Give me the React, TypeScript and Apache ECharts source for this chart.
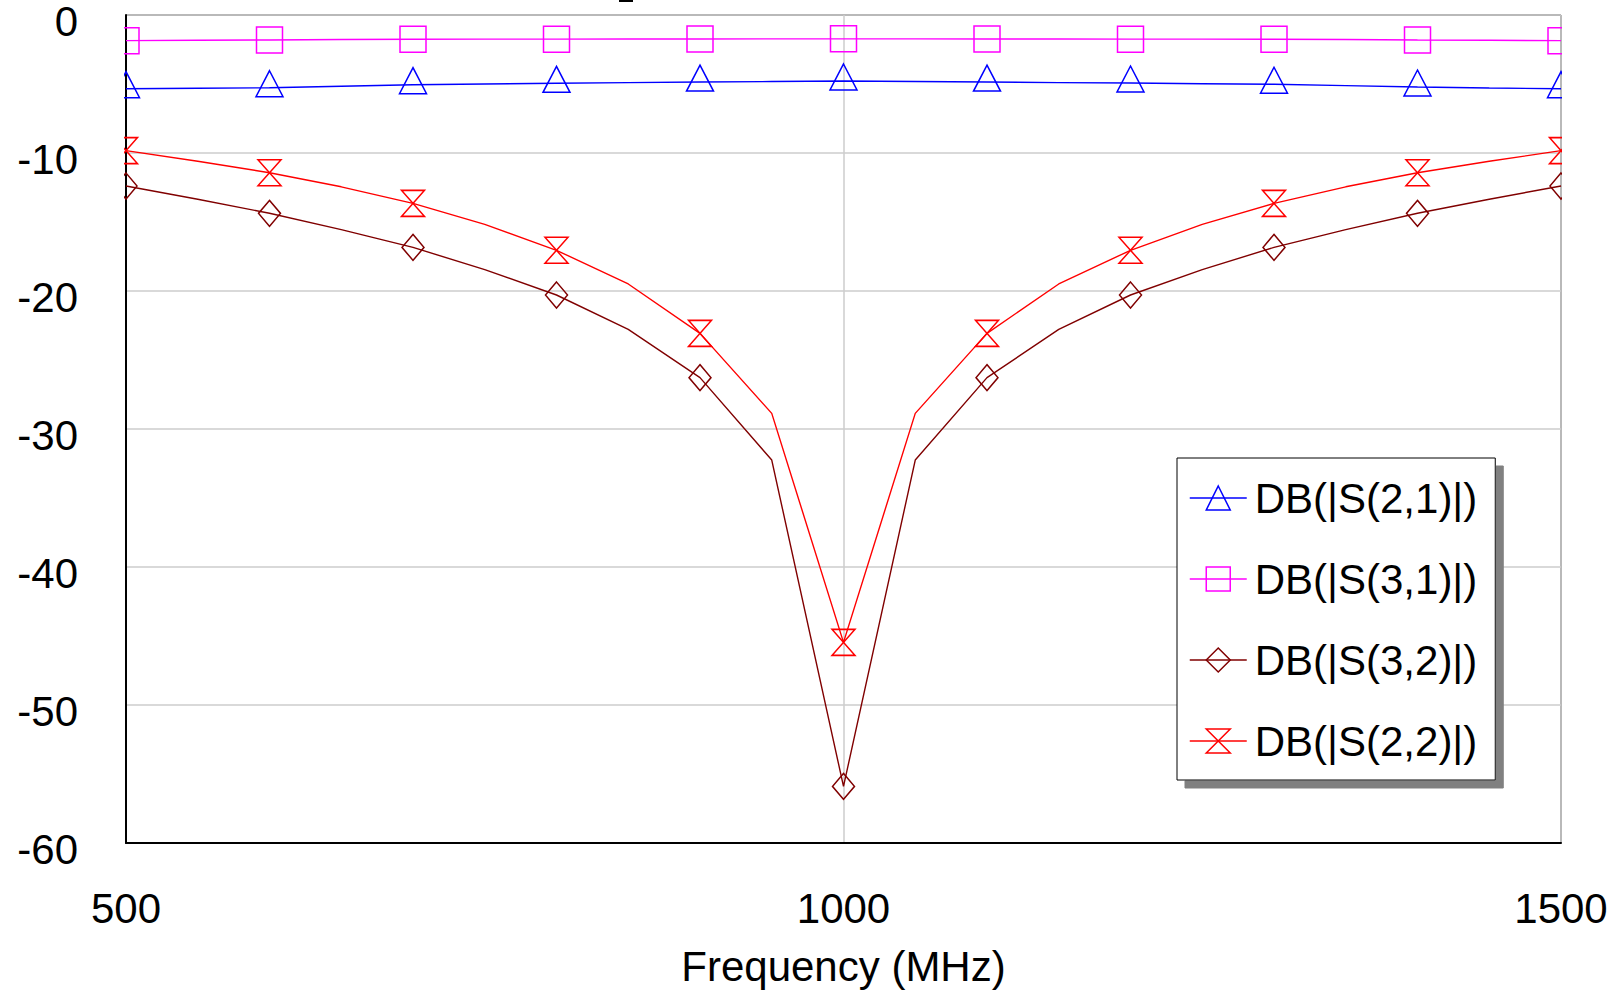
import React, { useEffect, useRef } from "react";
import * as echarts from "echarts";

// Frequency points (MHz) of the traces
const FREQ = [500, 550, 600, 650, 700, 750, 800, 850, 900, 950, 1000, 1050, 1100, 1150, 1200, 1250, 1300, 1350, 1400, 1450, 1500];
// Frequencies that carry a marker
const MARKER_FREQ = [500, 600, 700, 800, 900, 1000, 1100, 1200, 1300, 1400, 1500];

const S21 = [-5.34, -5.31, -5.27, -5.16, -5.05, -5.0, -4.95, -4.9, -4.86, -4.82, -4.78, -4.82, -4.86, -4.9, -4.93, -4.98, -5.02, -5.12, -5.22, -5.29, -5.34];
const S31 = [-1.86, -1.83, -1.81, -1.78, -1.76, -1.75, -1.75, -1.74, -1.74, -1.73, -1.73, -1.73, -1.74, -1.74, -1.75, -1.75, -1.76, -1.78, -1.81, -1.83, -1.86];
const S32 = [-12.39, -13.35, -14.37, -15.55, -16.84, -18.45, -20.29, -22.78, -26.28, -32.25, -55.9, -32.25, -26.28, -22.78, -20.29, -18.45, -16.84, -15.55, -14.37, -13.35, -12.39];
const S22 = [-9.83, -10.6, -11.43, -12.45, -13.65, -15.17, -17.05, -19.49, -23.07, -28.87, -45.46, -28.87, -23.07, -19.49, -17.05, -15.17, -13.65, -12.45, -11.43, -10.6, -9.83];

const NAMES = ["DB(|S(2,1)|)", "DB(|S(3,1)|)", "DB(|S(3,2)|)", "DB(|S(2,2)|)"];
const X_TICKS = [500, 1000, 1500];
const Y_MIN = -60;
const Y_MAX = 0;

const FONT = "'Liberation Sans', Arial, Helvetica, sans-serif";

function buildData(vals: number[]) {
  return FREQ.map((f, i) => {
    const item: any = { value: [f, vals[i]] };
    if (!MARKER_FREQ.includes(f)) item.symbol = "none";
    return item;
  });
}

function makeSeries(name: string, vals: number[], color: string, symbol: string, size: number[], offset: number[]) {
  return {
    name,
    type: "line",
    data: buildData(vals),
    symbol,
    symbolSize: size,
    symbolOffset: offset,
    showAllSymbol: true,
    lineStyle: { color, width: 1.4 },
    itemStyle: { color: "rgba(0,0,0,0)", borderColor: color, borderWidth: 1.5 },
    emphasis: { disabled: true },
    z: 2,
  };
}

export default function App() {
  const ref = useRef<HTMLDivElement>(null);
  useEffect(() => {
    if (!ref.current) return;
    const chart = echarts.init(ref.current, undefined, { renderer: "svg" });
    const gridLeft = 126;
    const gridRight = 58;
    const gridTop = 15;
    const gridBottom = 148;
    const option: any = {
      animation: false,
      backgroundColor: "#ffffff",
      grid: {
        left: gridLeft,
        right: gridRight,
        top: gridTop,
        bottom: gridBottom,
        show: true,
        borderColor: "#000",
        borderWidth: 1,
        containLabel: false,
        outerBoundsMode: "none",
      },
      xAxis: {
        type: "value",
        min: X_TICKS[0],
        max: X_TICKS[X_TICKS.length - 1],
        interval: 500,
        name: "Frequency (MHz)",
        nameLocation: "middle",
        nameGap: 102,
        nameTextStyle: { fontSize: 42, fontFamily: FONT, color: "#000" },
        axisLine: { show: true, onZero: false, lineStyle: { color: "#000", width: 2 } },
        axisTick: { show: false },
        axisLabel: {
          fontSize: 42,
          fontFamily: FONT,
          color: "#000",
          margin: 44,
          formatter: (v: number) => String(v),
        },
        splitLine: { show: true, lineStyle: { color: "#cccccc", width: 1.5 } },
      },
      yAxis: {
        type: "value",
        min: Y_MIN,
        max: Y_MAX,
        interval: 10,
        axisLine: { show: true, onZero: false, lineStyle: { color: "#000", width: 2 } },
        axisTick: { show: false },
        axisLabel: {
          fontSize: 42,
          fontFamily: FONT,
          color: "#000",
          margin: 48,
          verticalAlign: "top",
          lineHeight: 13,
        },
        splitLine: { show: true, lineStyle: { color: "#cccccc", width: 1.5 } },
      },
      legend: {
        orient: "vertical",
        left: 1177,
        top: 458,
        padding: [19, 18, 18, 12],
        itemWidth: 57,
        itemHeight: 30,
        itemGap: 39,
        backgroundColor: "#fff",
        borderColor: "#000",
        borderWidth: 1,
        shadowColor: "#808080",
        shadowBlur: 0,
        shadowOffsetX: 8,
        shadowOffsetY: 8,
        selectedMode: false,
        itemStyle: { borderWidth: 1.5 },
        lineStyle: { width: 1.5 },
        textStyle: { fontSize: 42, fontFamily: FONT, color: "#000", padding: [0, 0, 0, 3] },
        data: NAMES,
      },
      graphic: [
        { type: "rect", z: 10, silent: true, shape: { x: 88, y: 0, width: 36, height: 855 }, style: { fill: "#fff" } },
        { type: "rect", z: 10, silent: true, shape: { x: 1562, y: 0, width: 57, height: 855 }, style: { fill: "#fff" } },
        { type: "rect", z: 10, silent: true, shape: { x: 619, y: 0, width: 14, height: 2 }, style: { fill: "#000" } },
      ],
      series: [
        makeSeries(NAMES[0], S21, "#0000ff", "path://M5,0 L10,10 L0,10 Z", [27, 26], [0, -4]),
        makeSeries(NAMES[1], S31, "#ff00ff", "path://M0,0 L10,0 L10,10 L0,10 Z", [26, 26], [0, 0]),
        makeSeries(NAMES[2], S32, "#800000", "path://M5,0 L10,5 L5,10 L0,5 Z", [22, 26], [0, 0]),
        makeSeries(NAMES[3], S22, "#ff0000", "path://M0,0 L10,0 L0,10 L10,10 Z", [23, 26], [0, 0]),
      ],
    };
    chart.setOption(option);
    return () => chart.dispose();
  }, []);
  return (
    <div
      ref={ref}
      style={{ position: "fixed", left: 0, top: 0, width: 1619, height: 991, background: "#fff" }}
    />
  );
}
